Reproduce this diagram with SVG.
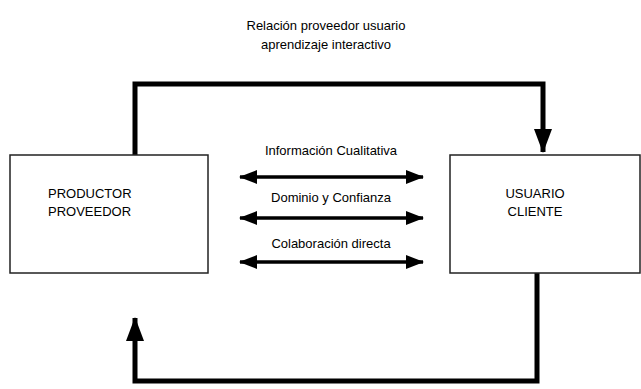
<svg xmlns="http://www.w3.org/2000/svg" width="641" height="389" viewBox="0 0 641 389">
<style>
  .t { font-family: "Liberation Sans", Arial, sans-serif; font-size: 13px; fill: #000; }
  .box { fill: #fff; stroke: #222; stroke-width: 1.5; }
  .thick { fill: none; stroke: #000; stroke-width: 5; }
  .dbl { fill: none; stroke: #000; stroke-width: 3.5; }
</style>
<defs>
  <marker id="ah" markerUnits="userSpaceOnUse" markerWidth="18" markerHeight="14" refX="17" refY="7" orient="auto-start-reverse">
    <path d="M0,0 L18,7 L0,14 Z" fill="#000"/>
  </marker>
  <marker id="big" markerUnits="userSpaceOnUse" markerWidth="24" markerHeight="18" refX="23" refY="9" orient="auto">
    <path d="M0,0 L24,9 L0,18 Z" fill="#000"/>
  </marker>
</defs>
<text class="t" x="326" y="30" text-anchor="middle">Relación proveedor usuario</text>
<text class="t" x="326" y="49" text-anchor="middle">aprendizaje interactivo</text>
<g id="connectors">
  <path class="thick" d="M135,155 L135,84 L543,84 L543,152" marker-end="url(#big)"/>
  <path class="thick" d="M537,273 L537,381 L135,381 L135,318" marker-end="url(#big)"/>
  <line class="dbl" x1="240" y1="177" x2="423" y2="177" marker-start="url(#ah)" marker-end="url(#ah)"/>
  <line class="dbl" x1="240" y1="218" x2="423" y2="218" marker-start="url(#ah)" marker-end="url(#ah)"/>
  <line class="dbl" x1="240" y1="262" x2="423" y2="262" marker-start="url(#ah)" marker-end="url(#ah)"/>
  <text class="t" x="331" y="155" text-anchor="middle">Información Cualitativa</text>
  <text class="t" x="331" y="202" text-anchor="middle">Dominio y Confianza</text>
  <text class="t" x="331" y="248" text-anchor="middle">Colaboración directa</text>
</g>
<g id="productor">
  <rect class="box" x="10" y="155" width="198" height="118"/>
  <text class="t" x="48" y="198">PRODUCTOR</text>
  <text class="t" x="48" y="216">PROVEEDOR</text>
</g>
<g id="usuario">
  <rect class="box" x="450" y="155" width="190" height="118"/>
  <text class="t" x="535" y="198" text-anchor="middle">USUARIO</text>
  <text class="t" x="535" y="216" text-anchor="middle">CLIENTE</text>
</g>
</svg>
